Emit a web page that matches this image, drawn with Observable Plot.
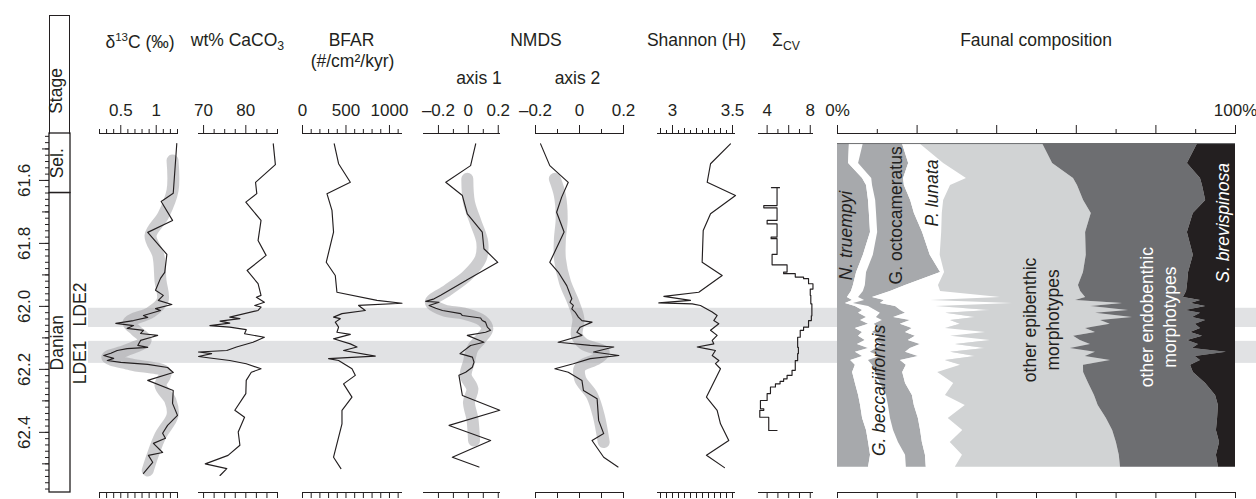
<!DOCTYPE html>
<html><head><meta charset="utf-8">
<script src="https://cdn.jsdelivr.net/npm/d3@7"></script>
<script src="https://cdn.jsdelivr.net/npm/@observablehq/plot@0.6"></script>
<style>
body{margin:0;background:#fff;}
#fig{position:relative;width:1256px;height:499px;overflow:hidden;font-family:"Liberation Sans",Arial,Helvetica,sans-serif;color:#231f20;background:#fff;}
#fig > svg{position:absolute;left:0;top:0;}
.t{position:absolute;white-space:nowrap;font-size:17.5px;line-height:1;transform:translateX(-50%);}
.t sup,.t sub{vertical-align:baseline;position:relative;line-height:0;}
.t sup{font-size:0.66em;top:-0.6em;}
.t sub{font-size:0.7em;top:0.28em;}
.hdr{position:absolute;left:49px;top:15px;width:21px;height:119px;box-sizing:border-box;border:1.3px solid #231f20;border-bottom:none;}
.rot{position:absolute;white-space:nowrap;font-size:17.5px;line-height:1;transform:translate(-50%,-50%) rotate(-90deg);}
</style></head><body><div id="fig"></div>
<script>
// ---------------- data ----------------
const AGE_DOMAIN = [61.451, 62.591];

const ageMajor = [61.6, 61.8, 62.0, 62.2, 62.4];
const ageMid = [61.5, 61.7, 61.9, 62.1, 62.3, 62.5];
const ageMinor = d3.range(61.46, 62.59, 0.02);

const stages = [
  {name: "Sel.", start: 61.451, end: 61.64},
  {name: "Danian", start: 61.64, end: 62.591}
];
const ldeBands = [
  {name: "LDE2", start: 62.006, end: 62.067},
  {name: "LDE1", start: 62.111, end: 62.181}
];
const ldeLabels = [
  {name: "LDE2", age: 61.994},
  {name: "LDE1", age: 62.178}
];

// delta13C
const d13cAge = [61.483, 61.641, 61.667, 61.727, 61.765, 61.835, 61.892, 61.911, 61.949, 61.965, 61.981, 61.994, 62.007, 62.013, 62.029, 62.035, 62.045, 62.054, 62.061, 62.070, 62.076, 62.086, 62.092, 62.099, 62.108, 62.124, 62.130, 62.134, 62.140, 62.149, 62.156, 62.165, 62.172, 62.178, 62.184, 62.194, 62.210, 62.235, 62.267, 62.308, 62.346, 62.378, 62.403, 62.419, 62.435, 62.464, 62.473, 62.495, 62.530];
const d13cVal = [1.29, 1.24, 1.07, 1.23, 0.88, 1.15, 1.12, 1.06, 0.99, 1.10, 1.03, 1.22, 0.99, 1.06, 0.82, 0.88, 0.68, 0.43, 0.68, 0.59, 0.82, 0.78, 1.02, 0.92, 0.78, 0.74, 0.88, 0.59, 0.45, 0.36, 0.26, 0.40, 0.31, 0.50, 0.88, 1.16, 1.24, 0.88, 1.24, 1.23, 1.30, 1.16, 1.09, 1.13, 0.96, 1.09, 0.89, 0.95, 0.82];
const d13cSmoothAge = [61.537, 61.632, 61.711, 61.775, 61.838, 61.918, 61.981, 62.019, 62.051, 62.076, 62.108, 62.140, 62.162, 62.184, 62.210, 62.251, 62.299, 62.346, 62.410, 62.473, 62.521];
const d13cSmoothVal = [1.23, 1.23, 1.10, 0.92, 1.03, 1.06, 1.09, 0.92, 0.61, 0.71, 0.85, 0.57, 0.31, 0.64, 1.13, 1.06, 1.20, 1.23, 1.06, 0.95, 0.88];
const d13cMajor = [0.5, 1];
const d13cMinor = [0.2, 0.3, 0.4, 0.6, 0.7, 0.8, 0.9, 1.1, 1.2, 1.3];

// wt% CaCO3
const caAge = [61.484, 61.550, 61.606, 61.642, 61.669, 61.727, 61.791, 61.838, 61.886, 61.928, 61.965, 61.971, 61.987, 61.997, 62.002, 62.013, 62.034, 62.039, 62.047, 62.053, 62.061, 62.066, 62.074, 62.087, 62.098, 62.114, 62.129, 62.140, 62.145, 62.150, 62.159, 62.164, 62.172, 62.182, 62.198, 62.209, 62.235, 62.277, 62.330, 62.352, 62.399, 62.441, 62.473, 62.500, 62.515, 62.537];
const caVal = [86.5, 87.0, 82.3, 82.6, 80.0, 83.6, 82.9, 84.8, 80.3, 82.9, 83.6, 82.5, 84.4, 82.1, 83.6, 82.9, 76.2, 78.6, 73.9, 76.2, 71.5, 76.2, 80.1, 79.7, 84.4, 81.7, 77.8, 75.5, 68.8, 71.9, 68.8, 71.5, 76.2, 80.1, 83.6, 81.3, 80.1, 80.0, 77.4, 79.7, 78.2, 78.6, 75.8, 70.4, 75.5, 73.9];
const caMajor = [70, 80];
const caMinor = [72.5, 75, 77.5, 82.5, 85, 87.5];

// BFAR
const bfarAge = [61.484, 61.547, 61.606, 61.642, 61.695, 61.764, 61.860, 61.902, 61.955, 61.981, 61.990, 61.997, 62.013, 62.023, 62.034, 62.039, 62.050, 62.066, 62.082, 62.089, 62.103, 62.119, 62.129, 62.140, 62.158, 62.166, 62.172, 62.198, 62.219, 62.246, 62.288, 62.330, 62.373, 62.479, 62.515];
const bfarVal = [365, 415, 550, 281, 339, 357, 273, 377, 396, 857, 1145, 645, 722, 454, 357, 434, 377, 415, 396, 550, 357, 550, 627, 472, 837, 300, 415, 569, 607, 472, 569, 454, 454, 357, 442];
const bfarMajor = [0, 500, 1000];
const bfarMinor = [100, 200, 300, 400, 600, 700, 800, 900, 1100];

// NMDS axis 1
const n1Age = [61.484, 61.553, 61.606, 61.648, 61.706, 61.764, 61.817, 61.860, 61.912, 61.965, 61.976, 61.984, 61.987, 61.997, 62.006, 62.013, 62.023, 62.029, 62.037, 62.045, 62.050, 62.066, 62.076, 62.082, 62.092, 62.114, 62.124, 62.150, 62.161, 62.177, 62.193, 62.209, 62.219, 62.283, 62.330, 62.378, 62.426, 62.479, 62.510];
const n1Val = [0.049, 0.015, -0.151, -0.040, -0.007, 0.093, 0.104, 0.197, 0.004, -0.185, -0.229, -0.285, -0.196, -0.263, -0.218, -0.173, -0.051, -0.040, 0.082, 0.093, 0.115, 0.127, 0.149, 0.115, -0.007, 0.104, 0.015, -0.056, 0.027, 0.038, 0.027, -0.018, -0.063, -0.040, 0.210, -0.129, 0.149, -0.107, 0.071];
const n1SmoothAge = [61.595, 61.669, 61.733, 61.796, 61.849, 61.902, 61.949, 61.987, 62.013, 62.023, 62.045, 62.071, 62.103, 62.135, 62.177, 62.219, 62.262, 62.304, 62.357, 62.426];
const n1SmoothVal = [-0.007, 0.004, 0.049, 0.093, 0.082, -0.007, -0.140, -0.251, -0.163, -0.029, 0.093, 0.127, 0.082, 0.027, 0.004, -0.018, 0.027, 0.004, 0.027, 0.038];

// NMDS axis 2
const n2Age = [61.484, 61.553, 61.606, 61.653, 61.701, 61.764, 61.860, 61.891, 61.934, 61.976, 61.987, 61.997, 62.008, 62.018, 62.034, 62.045, 62.050, 62.066, 62.082, 62.092, 62.114, 62.124, 62.129, 62.145, 62.156, 62.166, 62.182, 62.198, 62.209, 62.235, 62.267, 62.293, 62.362, 62.404, 62.426, 62.479, 62.510];
const n2Val = [-0.177, -0.135, -0.051, -0.081, -0.104, -0.070, -0.135, -0.097, -0.058, -0.035, -0.043, -0.028, -0.035, -0.020, -0.005, 0.011, 0.057, 0.003, -0.012, 0.011, -0.097, 0.049, 0.156, 0.064, 0.179, 0.049, -0.028, -0.112, -0.051, 0.011, 0.018, 0.080, 0.087, 0.110, 0.057, 0.110, 0.175];
const n2SmoothAge = [61.595, 61.648, 61.722, 61.785, 61.849, 61.923, 61.987, 62.039, 62.092, 62.119, 62.145, 62.166, 62.193, 62.230, 62.283, 62.346, 62.431];
const n2SmoothVal = [-0.112, -0.089, -0.081, -0.089, -0.089, -0.066, -0.028, -0.005, -0.012, 0.018, 0.110, 0.080, 0.003, 0.003, 0.057, 0.087, 0.110];
const nmdsMajor = [-0.2, 0, 0.2];
const nmdsMinor = [-0.1, 0.1];

// Shannon H
const shAge = [61.484, 61.547, 61.606, 61.648, 61.706, 61.759, 61.860, 61.902, 61.955, 61.968, 61.981, 61.989, 61.992, 61.997, 62.018, 62.029, 62.045, 62.055, 62.076, 62.092, 62.108, 62.119, 62.129, 62.135, 62.140, 62.156, 62.172, 62.182, 62.198, 62.288, 62.330, 62.373, 62.426, 62.473, 62.512];
const shVal = [3.483, 3.317, 3.289, 3.525, 3.317, 3.256, 3.247, 3.414, 3.219, 2.928, 3.150, 2.886, 3.164, 3.233, 3.331, 3.372, 3.344, 3.386, 3.317, 3.372, 3.331, 3.344, 3.206, 3.289, 3.358, 3.331, 3.386, 3.358, 3.400, 3.283, 3.372, 3.400, 3.469, 3.283, 3.433];
const shMajor = [3, 3.5];
const shMid = [2.9, 3.1, 3.2, 3.3, 3.4];
const shMinor = [2.95, 3.05, 3.15, 3.25, 3.35, 3.45];

// Sigma CV (stepped)
const cvAge = [61.623, 61.623, 61.623, 61.680, 61.687, 61.727, 61.738, 61.780, 61.785, 61.835, 61.868, 61.891, 61.896, 61.907, 61.912, 61.928, 61.945, 61.965, 61.992, 62.030, 62.045, 62.066, 62.076, 62.098, 62.130, 62.150, 62.172, 62.203, 62.219, 62.230, 62.238, 62.246, 62.256, 62.277, 62.299, 62.325, 62.330, 62.352, 62.394];
const cvVal = [4.40, 5.15, 4.92, 3.69, 4.92, 4.00, 4.92, 4.37, 4.92, 4.46, 5.85, 5.53, 6.61, 7.38, 7.84, 8.25, 8.00, 8.05, 8.15, 8.10, 7.84, 7.38, 7.07, 6.83, 6.90, 6.83, 6.61, 6.31, 5.85, 5.53, 5.20, 4.77, 4.31, 4.00, 3.38, 3.69, 3.32, 4.15, 4.92];
const cvMajor = [4, 6, 8];
const cvMinor = [5, 7];

// Faunal composition (%)
const faunalAge = [61.483, 61.546, 61.594, 61.616, 61.664, 61.705, 61.765, 61.838, 61.892, 61.934, 61.953, 61.972, 61.981, 61.991, 62.000, 62.013, 62.022, 62.035, 62.045, 62.057, 62.070, 62.083, 62.095, 62.108, 62.121, 62.134, 62.146, 62.159, 62.172, 62.187, 62.210, 62.245, 62.283, 62.315, 62.356, 62.394, 62.432, 62.473, 62.511];
const nTruempyi = [3.0, 2.8, 6.3, 7.3, 7.8, 8.0, 8.3, 6.5, 4.8, 4.0, 3.5, 2.5, 3.8, 2.0, 4.5, 6.3, 5.3, 7.3, 5.8, 7.8, 4.5, 6.3, 5.3, 7.0, 5.0, 7.8, 4.5, 6.3, 3.3, 4.5, 3.8, 4.5, 5.3, 5.8, 6.3, 7.3, 7.8, 8.3, 7.8];
const gBeccariiformis = [3.5, 2.5, 2.3, 1.5, 1.8, 1.8, 1.8, 2.5, 2.5, 3.0, 3.0, 2.8, 3.0, 2.0, 3.3, 3.3, 5.5, 2.5, 5.5, 1.5, 5.8, 2.5, 5.5, 2.5, 6.3, 2.0, 3.8, 4.5, 4.5, 4.3, 5.8, 6.3, 7.0, 7.0, 7.0, 6.8, 7.5, 8.8, 9.5];
const gOctocameratus = [9.8, 12.6, 8.0, 8.0, 8.8, 9.5, 11.3, 14.3, 18.6, 10.1, 6.8, 3.5, 5.0, 6.8, 6.8, 6.3, 6.3, 4.3, 7.0, 6.5, 8.5, 8.3, 8.8, 8.3, 9.5, 8.5, 8.8, 9.5, 8.0, 8.5, 6.8, 6.3, 6.5, 6.5, 7.0, 6.8, 6.0, 5.0, 5.0];
const pLunata = [4.3, 8.8, 15.8, 11.6, 8.3, 7.0, 4.8, 2.5, 1.0, 8.3, 12.6, 32.2, 11.6, 33.2, 10.1, 22.6, 10.1, 20.6, 10.1, 15.1, 8.3, 20.1, 8.8, 20.6, 8.8, 18.8, 11.3, 14.3, 11.3, 13.6, 8.8, 12.1, 8.3, 12.8, 7.5, 10.6, 7.0, 9.3, 7.3];
const otherEpibenthic = [30.9, 27.4, 26.9, 31.9, 35.2, 37.4, 36.2, 36.7, 34.9, 35.2, 35.2, 21.4, 36.4, 27.6, 38.9, 34.7, 37.7, 39.4, 37.7, 37.7, 35.2, 27.6, 30.9, 22.6, 33.9, 21.4, 36.4, 27.6, 41.5, 30.9, 36.7, 33.9, 37.4, 33.4, 39.7, 37.7, 41.7, 39.4, 41.5];
const otherEndobenthic = [39.0, 33.9, 31.9, 31.4, 30.7, 25.6, 25.6, 26.9, 26.4, 27.4, 26.6, 24.6, 31.4, 17.1, 28.9, 14.3, 26.4, 15.1, 26.4, 21.4, 28.9, 23.9, 32.4, 26.9, 27.1, 30.7, 32.9, 27.6, 22.6, 26.9, 27.6, 29.4, 30.4, 30.2, 27.9, 26.1, 25.9, 24.4, 24.6];
const sBrevispinosa = [9.5, 12.1, 8.8, 8.3, 7.5, 10.6, 12.1, 10.6, 11.8, 12.1, 12.3, 13.1, 8.8, 11.3, 7.5, 12.6, 8.8, 10.8, 7.5, 10.1, 8.8, 11.3, 8.3, 12.1, 9.3, 10.8, 2.3, 10.1, 8.8, 11.3, 10.6, 7.5, 5.0, 4.3, 4.5, 4.8, 4.0, 4.8, 4.3];
const taxonNames = ["N. truempyi", "G. beccariiformis", "G. octocameratus", "P. lunata", "other epibenthic", "other endobenthic", "S. brevispinosa"];
const taxonColors = ["#a7a9ac", "#ffffff", "#a7a9ac", "#ffffff", "#d1d3d4", "#6d6e71", "#231f20"];
const faunalMajor = [0, 0.2, 0.4, 0.6, 0.8, 1];
const faunalMinor = [0.1, 0.3, 0.5, 0.7, 0.9];
const faunalLabels = [
  {label: "N. truempyi", age: 61.775, pos: 0.019, light: false, italic: true},
  {label: "G. beccariiformis", age: 62.267, pos: 0.100, light: false, italic: true},
  {label: "G. octocameratus", age: 61.711, pos: 0.143, light: false, italic: false},
  {label: "P. lunata", age: 61.640, pos: 0.235, light: false, italic: true},
  {label: "other epibenthic\nmorphotypes", age: 62.043, pos: 0.509, light: false, italic: false},
  {label: "other endobenthic\nmorphotypes", age: 62.034, pos: 0.804, light: true, italic: false},
  {label: "S. brevispinosa", age: 61.735, pos: 0.966, light: true, italic: true}
];

// ---------------- drawing ----------------
const W = 1256, H = 499, TOP = 133, BOTTOM = 7;
const INK = "#231f20", BAND = "#e1e2e4", SMOOTH = "#a0a1a4";
const FONT = '"Liberation Sans", Arial, Helvetica, sans-serif';
const zip = (ages, vals) => ages.map((age, i) => ({age, v: vals[i]}));
const fig = document.getElementById("fig");

function base(x0, x1, xdomain, marks, extra = {}) {
  return Plot.plot({
    width: W, height: H, marginTop: TOP, marginBottom: BOTTOM, marginLeft: x0, marginRight: W - x1,
    x: {domain: xdomain, axis: null}, y: {domain: AGE_DOMAIN, reverse: true, axis: null},
    style: {background: "transparent", fontFamily: FONT, fontSize: "17px", color: INK, overflow: "visible"},
    marks, ...extra
  });
}

function axes(tiers) {
  const all = tiers.flatMap(t => t.ticks);
  return [
    Plot.ruleY([AGE_DOMAIN[0]], {stroke: INK, strokeWidth: 1}),
    Plot.ruleY([AGE_DOMAIN[1]], {stroke: INK, strokeWidth: 1}),
    ...tiers.map(t => Plot.axisX({anchor: "top", ticks: t.ticks, tickSize: t.size, tickPadding: 18 - t.size,
      tickFormat: t.fmt || (() => ""), label: null, stroke: INK, fill: INK})),
    Plot.axisX({anchor: "bottom", ticks: all, tickSize: 6, tickFormat: () => "", label: null, stroke: INK})
  ];
}

const smooth = (ages, vals) => Plot.line(zip(ages, vals), {x: "v", y: "age", stroke: SMOOTH, strokeOpacity: 0.53,
  strokeWidth: 12, curve: "catmull-rom", strokeLinecap: "round", strokeLinejoin: "round"});
const black = (ages, vals, curve = "linear") => Plot.line(zip(ages, vals), {x: "v", y: "age", stroke: INK, strokeWidth: 1.15, curve});
const dash = d => d < 0 ? "\u2013" + Math.abs(d) : String(d);

const plots = [];

// LDE bands (background)
plots.push(base(88, W, [0, 1], [
  Plot.rect(ldeBands, {x1: () => 0, x2: () => 1, y1: "start", y2: "end", fill: BAND}),
  Plot.text(ldeLabels, {y: "age", text: "name", frameAnchor: "left", textAnchor: "middle", dx: -8, rotate: -90, fontSize: 17.5, fill: INK})
]));

// Stage column + age axis
plots.push(base(49, 70, [0, 1], [
  Plot.rect(stages, {x1: () => 0, x2: () => 1, y1: "start", y2: "end", fill: "none", stroke: INK, strokeWidth: 1.3}),
  Plot.text(stages, {y: d => (d.start + d.end) / 2, text: "name", frameAnchor: "middle", textAnchor: "middle", dx: -2.5, rotate: -90, fontSize: 17.5, fill: INK}),
  Plot.axisY({anchor: "left", ticks: ageMinor, tickSize: 4, tickFormat: () => "", label: null, stroke: INK}),
  Plot.axisY({anchor: "left", ticks: ageMid, tickSize: 7, tickFormat: () => "", label: null, stroke: INK}),
  Plot.axisY({anchor: "left", ticks: ageMajor, tickSize: 10, tickFormat: () => "", label: null, stroke: INK}),
  Plot.text(ageMajor, {y: d => d, text: d => d.toFixed(1), frameAnchor: "left", textAnchor: "middle", dx: -24.5, rotate: -90, fontSize: 17, fill: INK})
]));

// Faunal composition
const faunalRows = [];
const taxonValues = [nTruempyi, gBeccariiformis, gOctocameratus, pLunata, otherEpibenthic, otherEndobenthic, sBrevispinosa];
taxonNames.forEach((name, k) => faunalAge.forEach((age, i) => faunalRows.push({age, taxon: name, pct: taxonValues[k][i]})));
const labelMarks = [[false, true], [false, false], [true, true], [true, false]].map(([light, italic]) =>
  Plot.text(faunalLabels.filter(d => d.light === light && d.italic === italic), {
    x: "pos", y: "age", text: "label", rotate: -90, textAnchor: "middle", fill: light ? "#ffffff" : INK,
    fontStyle: italic ? "italic" : "normal", fontSize: 17.5, lineHeight: 1.3
  }));
plots.push(base(837, 1235, [0, 1], [
  Plot.areaX(faunalRows, Plot.stackX({offset: "normalize", order: taxonNames}, {y: "age", x: "pct", fill: "taxon"})),
  Plot.ruleY([faunalAge[0]], {stroke: "#6d6e71", strokeWidth: 1}),
  ...labelMarks,
  ...axes([
    {ticks: faunalMajor, size: 9, fmt: d => d === 0 ? "0%" : d === 1 ? "100%" : ""},
    {ticks: faunalMinor, size: 5}
  ])
], {color: {domain: taxonNames, range: taxonColors}}));

// delta13C
plots.push(base(99, 177, [0.2, 1.3], [
  smooth(d13cSmoothAge, d13cSmoothVal),
  black(d13cAge, d13cVal),
  ...axes([{ticks: d13cMajor, size: 9, fmt: String}, {ticks: d13cMinor, size: 5}])
]));
// CaCO3
plots.push(base(198, 277, [68.8, 87.5], [
  black(caAge, caVal),
  ...axes([{ticks: caMajor, size: 9, fmt: String}, {ticks: caMinor, size: 5}])
]));
// BFAR
plots.push(base(302, 402, [0, 1150], [
  black(bfarAge, bfarVal),
  ...axes([{ticks: bfarMajor, size: 9, fmt: String}, {ticks: bfarMinor, size: 5}])
]));
// NMDS 1
plots.push(base(423, 500, [-0.3, 0.215], [
  smooth(n1SmoothAge, n1SmoothVal),
  black(n1Age, n1Val),
  ...axes([{ticks: nmdsMajor, size: 9, fmt: dash}, {ticks: nmdsMinor, size: 5}])
]));
// NMDS 2
plots.push(base(535, 623, [-0.2, 0.2], [
  smooth(n2SmoothAge, n2SmoothVal),
  black(n2Age, n2Val),
  ...axes([{ticks: nmdsMajor, size: 9, fmt: dash}, {ticks: nmdsMinor, size: 5}])
]));
// Shannon
plots.push(base(657, 735, [2.875, 3.525], [
  black(shAge, shVal),
  ...axes([{ticks: shMajor, size: 9, fmt: String}, {ticks: shMid, size: 6}, {ticks: shMinor, size: 4}])
]));
// Sigma CV
plots.push(base(758, 813, [3.2, 8.3], [
  black(cvAge, cvVal, "step-before"),
  ...axes([{ticks: cvMajor, size: 9, fmt: d => d === 6 ? "" : String(d)}, {ticks: cvMinor, size: 5}])
]));

plots.forEach(p => fig.appendChild(p));

// titles (HTML text)
const titles = [
  {html: "\u03b4<sup>13</sup>C (\u2030)", x: 140, base: 49},
  {html: "wt% CaCO<sub>3</sub>", x: 237.5, base: 47},
  {html: "BFAR", x: 351.5, base: 47},
  {html: "(#/cm\u00b2/kyr)", x: 352.5, base: 68},
  {html: "NMDS", x: 536, base: 47},
  {html: "axis 1", x: 479, base: 85},
  {html: "axis 2", x: 577.5, base: 85},
  {html: "Shannon (H)", x: 696.5, base: 47},
  {html: "\u03a3<sub>CV</sub>", x: 786, base: 47},
  {html: "Faunal composition", x: 1036, base: 47}
];
titles.forEach(t => {
  const d = document.createElement("div");
  d.className = "t";
  d.innerHTML = t.html;
  d.style.left = t.x + "px";
  d.style.top = (t.base - 14.8) + "px";
  fig.appendChild(d);
});
const hdr = document.createElement("div");
hdr.className = "hdr";
fig.appendChild(hdr);
const st = document.createElement("div");
st.className = "rot";
st.textContent = "Stage";
st.style.left = "57px";
st.style.top = "91px";
fig.appendChild(st);
</script></body></html>
